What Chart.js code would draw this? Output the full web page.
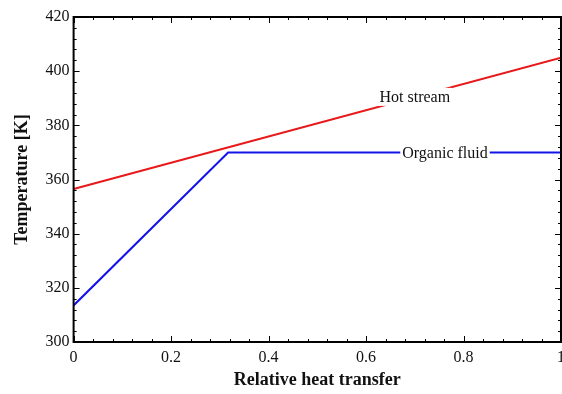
<!DOCTYPE html>
<html>
<head>
<meta charset="utf-8">
<script src="https://cdn.jsdelivr.net/npm/chart.js@4"></script>
<style>
  html, body { margin: 0; padding: 0; background: #fff; overflow: hidden; }
  #wrap { width: 562px; height: 394px; }
</style>
</head>
<body>
<div id="wrap"><canvas id="chart"></canvas></div>
<script>
// --- data ---
const hotX = [0, 1];
const hotT = [356.5, 405];
const orgX = [0, 0.317, 1];
const orgT = [313.5, 370, 370];

const xTicks = [0, 0.2, 0.4, 0.6, 0.8, 1];
const yTicks = [300, 320, 340, 360, 380, 400, 420];

// inline curve labels
const labelText = ["Hot stream", "Organic fluid"];
const labelX = [0.70, 0.762];
const labelY = [390.5, 370];

const serif = "'Liberation Serif', 'Times New Roman', serif";

// frame + inward ticks (major and minor) on all four sides, like the original plot
const framePlugin = {
  id: "frame",
  afterDraw(chart) {
    const { ctx, chartArea: a, scales } = chart;
    const xs = scales.x, ys = scales.y;
    ctx.save();
    ctx.strokeStyle = "#000";
    ctx.lineWidth = 1;
    ctx.beginPath();
    for (let v = 0; v <= 1.0001; v += 0.04) {
      const px = Math.round(xs.getPixelForValue(v)) + 0.5;
      const major = Math.abs(v * 5 - Math.round(v * 5)) < 1e-6;
      const len = major ? 6 : 3;
      ctx.moveTo(px, a.bottom); ctx.lineTo(px, a.bottom - len);
      ctx.moveTo(px, a.top); ctx.lineTo(px, a.top + len);
    }
    for (let v = 300; v <= 420; v += 4) {
      const py = Math.round(ys.getPixelForValue(v)) + 0.5;
      const len = v % 20 === 0 ? 6 : 3;
      ctx.moveTo(a.left, py); ctx.lineTo(a.left + len, py);
      ctx.moveTo(a.right, py); ctx.lineTo(a.right - len, py);
    }
    ctx.stroke();
    ctx.lineWidth = 2;
    ctx.strokeRect(a.left, a.top, a.right - a.left, a.bottom - a.top);
    ctx.restore();
  },
  afterDatasetsDraw(chart) {
    const { ctx, scales } = chart;
    ctx.save();
    ctx.font = "16px " + serif;
    ctx.textAlign = "center";
    ctx.textBaseline = "middle";
    labelText.forEach((t, i) => {
      const px = scales.x.getPixelForValue(labelX[i]);
      const py = scales.y.getPixelForValue(labelY[i]);
      const w = ctx.measureText(t).width;
      ctx.fillStyle = "#fff";
      ctx.fillRect(px - w / 2 - 2, py - 9, w + 4, 18);
      ctx.fillStyle = "#111";
      ctx.fillText(t, px, py + 1);
    });
    ctx.restore();
  },
};

const noEdgePad = (scale) => {
  scale.paddingRight = 0;
  scale.paddingLeft = 0;
  scale.paddingTop = 0;
  scale.paddingBottom = 0;
};

new Chart(document.getElementById("chart"), {
  type: "scatter",
  data: {
    datasets: [
      {
        label: "Hot stream",
        data: hotX.map((x, i) => ({ x, y: hotT[i] })),
        showLine: true,
        borderColor: "#e8191a",
        borderWidth: 2,
        pointRadius: 0,
      },
      {
        label: "Organic fluid",
        data: orgX.map((x, i) => ({ x, y: orgT[i] })),
        showLine: true,
        borderColor: "#1414e8",
        borderWidth: 2,
        pointRadius: 0,
      },
    ],
  },
  options: {
    responsive: true,
    maintainAspectRatio: false,
    animation: false,
    layout: { padding: { left: 8, top: 17, right: 1, bottom: 5 } },
    plugins: { legend: { display: false }, tooltip: { enabled: false } },
    scales: {
      x: {
        type: "linear",
        min: 0,
        max: 1,
        afterBuildTicks: (s) => { s.ticks = xTicks.map((v) => ({ value: v })); },
        afterFit: noEdgePad,
        grid: { display: false, drawTicks: false },
        border: { display: false },
        ticks: {
          padding: 8,
          color: "#111",
          font: { family: serif, size: 16, lineHeight: 1 },
          maxRotation: 0,
          callback: (v) => String(v),
        },
        title: {
          display: true,
          text: "Relative heat transfer",
          color: "#111",
          font: { family: serif, size: 18, weight: "bold", lineHeight: 1 },
          padding: { top: -3, bottom: 0 },
        },
      },
      y: {
        type: "linear",
        min: 300,
        max: 420,
        afterBuildTicks: (s) => { s.ticks = yTicks.map((v) => ({ value: v })); },
        afterFit: noEdgePad,
        grid: { display: false, drawTicks: false },
        border: { display: false },
        ticks: {
          padding: 4,
          color: "#111",
          font: { family: serif, size: 16 },
        },
        title: {
          display: true,
          text: "Temperature [K]",
          color: "#111",
          font: { family: serif, size: 18, weight: "bold" },
          padding: { top: 4, bottom: 8 },
        },
      },
    },
  },
  plugins: [framePlugin],
});
</script>
</body>
</html>
